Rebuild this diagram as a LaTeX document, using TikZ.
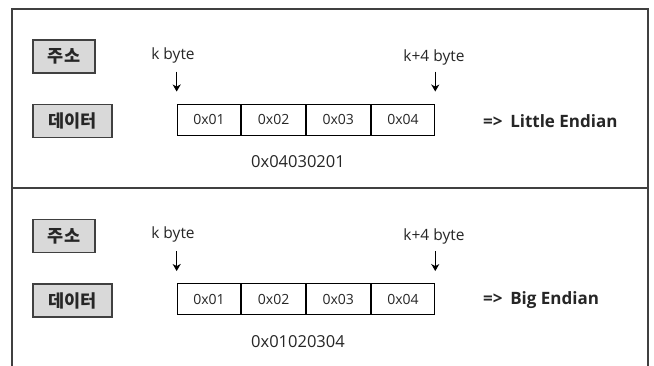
\documentclass[tikz,border=0pt]{standalone}
\usepackage{fontspec}
\setmainfont{Open Sans}
\newfontfamily\krfont{Noto Sans CJK KR}
\usetikzlibrary{arrows.meta}
\definecolor{frame}{HTML}{404040}
\definecolor{boxfill}{HTML}{D9D9D9}
\definecolor{ink}{HTML}{262626}

% One panel: address/data tags, four byte cells, pointers and the result
\newcommand\drawbytepanel[3]{%
  \node[tag, minimum width=62pt] (#1addr) at (64,56.5) {주소};
  \node[tag, minimum width=79pt] (#1data) at (72.5,121) {데이터};
  \node[cell] (#1c1) at (209,119.5) {0x01};
  \node[cell, anchor=west] (#1c2) at (#1c1.east) {0x02};
  \node[cell, anchor=west] (#1c3) at (#1c2.east) {0x03};
  \node[cell, anchor=west] (#1c4) at (#1c3.east) {0x04};
  \node[ptrtext] (#1k) at (173,55) {k byte};
  \node[ptrtext] (#1k4) at (434,57) {k+4 byte};
  \coordinate (#1ka) at ([yshift=32pt]#1c1.north west);
  \coordinate (#1kb) at ([yshift=12pt]#1c1.north west);
  \coordinate (#1k4a) at ([yshift=32pt]#1c4.north east);
  \coordinate (#1k4b) at ([yshift=12pt]#1c4.north east);
  \draw[ptr] (#1ka) -- (#1kb);
  \draw[ptr] (#1k4a) -- (#1k4b);
  \node[result, anchor=west] (#1res) at (483,121) {=>\hspace{0.45em}#2};
  \node[value] (#1val) at (298,162) {#3};
}

\begin{document}
\begin{tikzpicture}[x=1pt,y=-1pt,
  tag/.style={draw=frame, line width=1.3pt, fill=boxfill, inner sep=0pt,
    minimum height=33pt, font=\krfont\bfseries\fontsize{17.5}{17.5}\selectfont, text=ink},
  cell/.style={draw=black, line width=0.9pt, minimum width=63.75pt,
    minimum height=31pt, inner sep=0pt, font=\fontsize{14}{14}\selectfont, text=ink},
  ptrtext/.style={inner sep=0pt, font=\fontsize{15.5}{15.5}\selectfont, text=ink},
  ptr/.style={-{Stealth[length=7pt,width=8pt,inset=2pt]}, line width=1.4pt, black},
  result/.style={inner sep=0pt, font=\bfseries\fontsize{17}{17}\selectfont, text=ink},
  value/.style={inner sep=0pt, font=\fontsize{16.5}{16.5}\selectfont, text=ink},
]
\useasboundingbox (0,0) rectangle (654,365);
\fill[white] (0,0) rectangle (654,365);
% outer frame and divider
\draw[frame, line width=1.5pt] (12,370) -- (12,9) -- (648,9) -- (648,370);
\draw[frame, line width=1.5pt] (12,188) -- (648,188);

\drawbytepanel{t}{Little Endian}{0x04030201}
\begin{scope}[shift={(0,179.5)}]
  \drawbytepanel{b}{Big Endian}{0x01020304}
\end{scope}
\end{tikzpicture}
\end{document}
